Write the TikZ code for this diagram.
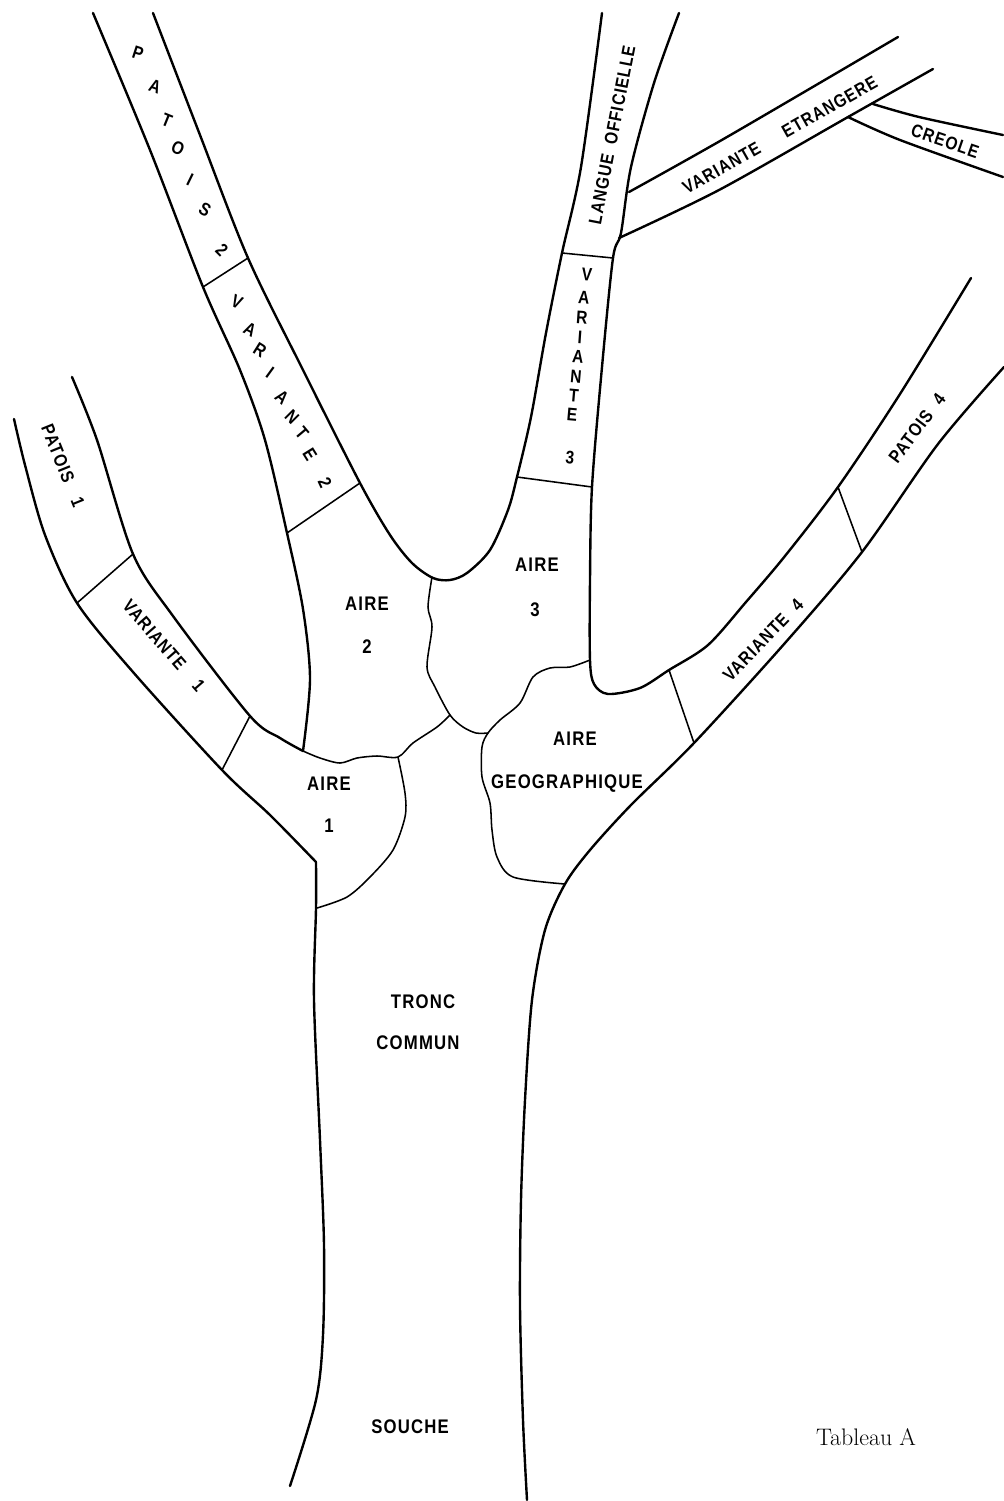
\documentclass[tikz,border=0pt]{standalone}
\usepackage{fontspec}
\newfontfamily\treefont[FakeStretch=0.85,LetterSpace=6]{Liberation Sans}
\usetikzlibrary{calc}
\tikzset{
  limb/.style={draw=black, line width=1.7pt, line cap=round, line join=round},
  seam/.style={draw=black, line width=1.1pt, line cap=round, line join=round},
  tag/.style={font=\treefont\bfseries\fontsize{14}{16}\selectfont, inner sep=0pt,
              text=black},
  stag/.style={font=\treefont\bfseries\fontsize{13}{15}\selectfont, inner sep=0pt,
               text=black},
}

\begin{document}
\begin{tikzpicture}[x=0.025cm, y=-0.025cm]
  \fill[white] (0,0) rectangle (1004,1501);
  \useasboundingbox (0,0) rectangle (1004,1501);

  % branche 1
  \draw[limb] plot[smooth] coordinates {(14,419) (25,465) (45,535) (77,603)
    (133,672) (222,770) (270,815) (316,862)};
  \draw[limb] plot[smooth] coordinates {(72,377) (97,440) (133,554) (173,616)
    (250,716) (280,738) (303,751)};
  \draw[seam] (77,603) -- (133,554);
  \draw[seam] (222,770) -- (250,716);

  % tronc
  \draw[limb] plot[smooth] coordinates {(316,862) (316,908) (314,1000)
    (320,1140) (324,1245) (323,1335) (316,1400) (290,1486)};
  \draw[limb] plot[smooth] coordinates {(1004,367) (938,444) (862,552)
    (785,643) (694,743) (631,805) (590,850) (565,884) (545,930) (532,1000)
    (525,1100) (521,1200) (520,1306) (523,1420) (527,1500)};

  % branche 2
  \draw[limb] plot[smooth] coordinates {(93,13) (150,150) (203,287) (240,370)
    (265,440) (287,533) (303,609) (310,679) (303,751)};
  \draw[limb] plot[smooth] coordinates {(153,13) (200,135) (248,258) (303,370)
    (360,483) (390,535) (412,563) (433,578) (450,580) (467,573) (490,550)
    (508,510) (517,477) (531,417) (546,333) (562,253) (581,167) (602,13)};
  \draw[seam] (203,287) -- (248,258);
  \draw[seam] (287,533) -- (360,483);

  % branche 3 et branche 4
  \draw[limb] plot[smooth] coordinates {(679,13) (654,83) (631,167) (621,233)
    (613,258) (602,367) (592,487) (590,580) (590,660) (594,684) (608,694)
    (640,688) (669,670) (708,645) (746,602) (785,556) (838,487) (900,394)
    (971,278)};
  \draw[seam] (562,253) -- (613,258);
  \draw[seam] (517,477) -- (592,487);
  \draw[seam] (669,670) -- (694,743);
  \draw[seam] (838,487) -- (862,552);

  % variante etrangere et creole
  \draw[limb] plot[smooth] coordinates {(629,192) (727,137) (898,37)};
  \draw[limb] plot[smooth] coordinates {(619,238) (719,190) (848,117)
    (933,69)};
  \draw[limb] plot[smooth] coordinates {(873,104) (919,117) (1003,135)};
  \draw[limb] plot[smooth] coordinates {(848,117) (900,140) (1003,177)};

  % aires
  \draw[seam] plot[smooth] coordinates {(303,751) (320,758) (340,763)
    (357,758) (377,756) (398,757) (413,743) (437,727) (450,715)};
  \draw[seam] plot[smooth] coordinates {(432,577) (428,607) (432,627)
    (427,667) (435,687) (450,715) (463,727) (476,733) (488,733)};
  \draw[seam] plot[smooth] coordinates {(398,757) (405,793) (405,817)
    (393,850) (370,877) (347,897) (317,908)};
  \draw[seam] plot[smooth] coordinates {(590,660) (570,667) (550,668)
    (533,677) (520,703) (500,720) (488,733) (482,747) (482,777) (490,803)
    (492,830) (497,857) (513,877) (565,884)};

  \node[tag] (tronc) at (423,1002) {TRONC};
  \node[tag] (commun) at (418,1043) {COMMUN};
  \node[tag] (souche) at (410,1427) {SOUCHE};
  \node[tag] (aire1) at (329,784) {AIRE};
  \node[tag] (num1) at (329,826) {1};
  \node[tag] (aire2) at (367,604) {AIRE};
  \node[tag] (num2) at (367,647) {2};
  \node[tag] (aire3) at (537,565) {AIRE};
  \node[tag] (num3) at (535,610) {3};
  \node[tag] (airegeo) at (575,739) {AIRE};
  \node[tag] (geo) at (567,784) {GEOGRAPHIQUE};

  \node[stag, rotate=-68] (patois1) at (63,466) {PATOIS\hspace{0.45cm}1};
  \node[stag, rotate=-49] (variante1) at (164,646) {VARIANTE\hspace{0.5cm}1};
  \node[stag, rotate=79] (langue) at (612,135) {LANGUE\hspace{0.25cm}OFFICIELLE};
  \node[stag, rotate=29.5] (etrangere) at (780,135)
    {VARIANTE\hspace{0.7cm}ETRANGERE};
  \node[stag, rotate=-19] (creole) at (945,141) {CREOLE};
  \node[stag, rotate=46] (variante4) at (763,640) {VARIANTE\hspace{0.3cm}4};
  \node[stag, rotate=53] (patois4) at (917,428) {PATOIS\hspace{0.3cm}4};

  \foreach \ch/\px/\py/\rot [count=\i] in {P/138/53/-18, A/155/87/-20,
      T/167/120/-22, O/178/148/-24, I/190/180/-26, S/205/210/-30,
      2/222/250/-45}
    \node[stag, rotate=\rot] (pat2-\i) at (\px,\py) {\ch};
  \foreach \ch/\px/\py/\rot [count=\i] in {V/237/302/-25, A/250/330/-28,
      R/260/350/-32, I/270/373/-36, A/282/397/-40, N/292/417/-45,
      T/302/433/-50, E/310/455/-58, 2/325/483/-65}
    \node[stag, rotate=\rot] (var2-\i) at (\px,\py) {\ch};
  \foreach \ch/\px/\py/\rot [count=\i] in {V/587/275/-4, A/584/298/-4,
      R/582/318/-4, I/580/337/-4, A/578/357/-5, N/576/377/-5,
      T/574/396/-5, E/572/415/-5, 3/570/458/-5}
    \node[stag, rotate=\rot] (var3-\i) at (\px,\py) {\ch};

  \node[font=\fontsize{17}{20}\selectfont, inner sep=0pt] (tableau)
    at (866,1437) {Tableau A};
\end{tikzpicture}
\end{document}
